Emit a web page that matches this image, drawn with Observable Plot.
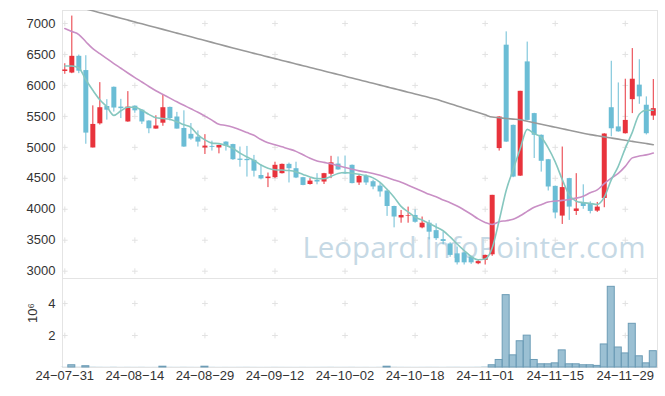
<!DOCTYPE html>
<html><head><meta charset="utf-8">
<script src="https://cdn.jsdelivr.net/npm/d3@7"></script>
<script src="https://cdn.jsdelivr.net/npm/@observablehq/plot@0.6"></script>
<style>body{margin:0;background:#fff;} #chart svg{display:block;}</style>
</head><body><div id="chart"></div>
<script>
const dates = ["24-07-31","24-08-01","24-08-02","24-08-05","24-08-06","24-08-07","24-08-08","24-08-09","24-08-12","24-08-13",
"24-08-14","24-08-16","24-08-19","24-08-20","24-08-21","24-08-22","24-08-23","24-08-26","24-08-27","24-08-28",
"24-08-29","24-08-30","24-09-02","24-09-03","24-09-04","24-09-05","24-09-06","24-09-09","24-09-10","24-09-11",
"24-09-12","24-09-13","24-09-19","24-09-20","24-09-23","24-09-24","24-09-25","24-09-26","24-09-27","24-09-30",
"24-10-02","24-10-04","24-10-07","24-10-08","24-10-10","24-10-11","24-10-14","24-10-15","24-10-16","24-10-17",
"24-10-18","24-10-21","24-10-22","24-10-23","24-10-24","24-10-25","24-10-28","24-10-29","24-10-30","24-10-31",
"24-11-01","24-11-04","24-11-05","24-11-06","24-11-07","24-11-08","24-11-11","24-11-12","24-11-13","24-11-14",
"24-11-15","24-11-18","24-11-19","24-11-20","24-11-21","24-11-22","24-11-25","24-11-26","24-11-27","24-11-28",
"24-11-29","24-12-02","24-12-03","24-12-04","24-12-05"];
const opens = [6225,6200,6470,6240,4990,5380,5660,5970,5650,5410,
5665,5600,5425,5295,5390,5645,5490,5305,5210,5165,
4990,5015,4990,5085,5045,4810,4805,4790,4545,4495,
4510,4575,4725,4655,4510,4400,4465,4440,4565,4730,
4590,4710,4425,4530,4445,4375,4295,4045,3860,3885,
3900,3700,3775,3655,3510,3440,3280,3295,3225,3120,
3175,3265,4980,6650,5355,4535,6380,5545,5195,4800,
4370,3890,4495,3965,4095,4095,3970,4175,5640,5330,
5220,5770,6005,5680,5505];
const highs = [6350,7120,6490,6480,5670,6045,5770,5975,5775,5900,
5670,5610,5430,5510,5845,5650,5565,5590,5385,5265,
5205,5100,5035,5090,5050,5005,5015,4870,4715,4585,
4760,4730,4745,4760,4515,4495,4575,4580,4855,4845,
4860,4715,4550,4555,4470,4415,4300,4050,3980,4035,
3990,3875,3820,3765,3630,3460,3390,3300,3240,3175,
3260,4225,5495,6865,5360,5905,6700,5550,5200,4805,
4375,5005,4500,4575,4395,4120,4110,5220,6390,6040,
6100,6595,6415,5815,6095];
const lows = [6180,6190,6190,5050,4990,5360,5440,5570,5465,5405,
5550,5370,5220,5295,5340,5425,5295,5000,5115,5005,
4885,4940,4895,4940,4790,4680,4520,4520,4475,4350,
4495,4570,4425,4495,4380,4390,4395,4400,4495,4630,
4560,4410,4385,4385,4315,4195,3885,3700,3775,3775,
3775,3685,3505,3495,3425,3225,3100,3100,3110,3105,
3100,3240,4940,5080,4510,4530,5430,4820,4600,4295,
3845,3755,3820,3900,4000,3925,3950,4025,5170,5245,
5215,5545,5695,5200,5435];
const closes = [6250,6470,6230,5230,5370,5640,5600,5635,5625,5650,
5590,5410,5300,5345,5640,5465,5295,5005,5135,5085,
5020,5000,5030,5020,4800,4790,4785,4615,4490,4520,
4710,4725,4655,4505,4385,4455,4440,4575,4750,4635,
4570,4415,4530,4425,4360,4280,4045,3875,3900,3895,
3790,3775,3630,3525,3480,3255,3135,3135,3135,3155,
3255,4225,5490,5085,4520,5905,5435,5195,4775,4360,
3940,4350,4035,4005,4045,3965,4035,5215,5300,5250,
5435,6100,5815,5220,5625];
const volumes = [12000,140000,15000,80000,18000,14000,11000,16000,9000,12000,
10000,13000,8000,9000,50000,12000,10000,14000,11000,9000,
50000,12000,8000,10000,9000,11000,13000,10000,8000,9000,
12000,10000,9000,8000,11000,9000,10000,12000,14000,10000,
11000,13000,9000,10000,8000,12000,50000,15000,12000,10000,
9000,11000,13000,12000,10000,14000,15000,12000,13000,16000,
30000,140000,470000,4520000,760000,1640000,1990000,470000,200000,200000,
260000,1070000,200000,200000,140000,140000,100000,1440000,5040000,1250000,
880000,2730000,700000,260000,1020000];
const ma5 = [6314,6314,6282,6091,5921,5768,5655,5517,5590,5647,
5647,5598,5533,5478,5465,5453,5412,5364,5323,5202,
5121,5068,5060,5032,4984,4906,4843,4790,4714,4663,
4639,4633,4625,4604,4563,4521,4495,4494,4531,4579,
4594,4583,4566,4544,4507,4434,4321,4196,4046,3957,
3873,3827,3771,3714,3653,3553,3439,3334,3237,3184,
3197,3375,3819,4304,4644,4976,5291,5221,5161,4992,
4765,4482,4232,4131,4107,4094,4078,4196,4474,4693,
4984,5242,5533,5598,5598];
const ma20 = [6919,6871,6822,6706,6593,6512,6432,6353,6277,6201,
6127,6056,5983,5915,5855,5795,5735,5679,5622,5566,
5504,5440,5372,5354,5325,5283,5239,5194,5126,5073,
5043,5008,4974,4935,4880,4823,4781,4757,4735,4705,
4676,4647,4620,4600,4578,4550,4513,4474,4437,4389,
4340,4292,4241,4204,4151,4107,4054,3989,3920,3844,
3787,3755,3800,3816,3837,3895,3965,4034,4075,4117,
4133,4144,4159,4180,4212,4266,4313,4413,4502,4579,
4693,4830,4859,4878,4908];
const ma120 = [7325,7295,7265,7235,7205,7175,7145,7115,7085,7055,
7025,6995,6965,6935,6905,6875,6845,6815,6785,6755,
6725,6695,6665,6635,6605,6575,6547,6518,6490,6461,
6433,6404,6376,6347,6319,6290,6262,6233,6205,6176,
6148,6119,6091,6062,6034,6005,5977,5948,5920,5891,
5863,5834,5806,5777,5741,5705,5669,5633,5597,5561,
5525,5489,5478,5467,5456,5445,5421,5397,5373,5349,
5325,5301,5277,5253,5229,5205,5187,5169,5151,5133,
5115,5097,5079,5061,5043];
const priceTicks = [3000,3500,4000,4500,5000,5500,6000,6500,7000];
const volumeTicks = [2000000,4000000];
const dateTicks = ["24-07-31","24-08-14","24-08-29","24-09-12","24-10-02","24-10-18","24-11-01","24-11-15","24-11-29"];
const watermark = "Leopard.InfoPointer.com";

const rows = dates.map((date, i) => ({i, date, open: opens[i], high: highs[i], low: lows[i], close: closes[i],
  volume: volumes[i], ma5: ma5[i], ma20: ma20[i], ma120: ma120[i]}));
const tickIdx = dateTicks.map(d => dates.indexOf(d));
const fmtDate = i => (dates[i] || "").replace(/-/g, "\u2212");
const xDomain = [-0.33, 84.6];
const isUp = d => d.close >= d.open;
const RED = "#e8333c", BLUE = "#6bbdd5";
const FONT = "'Liberation Sans', Arial, sans-serif";
const cross = (xs, ys) => xs.flatMap(x => ys.map(y => ({x, y})));
const style = {fontFamily: FONT, fontSize: "13px", color: "#333", background: "#fff", overflow: "visible"};

const price = Plot.plot({
  width: 665, height: 278, marginTop: 10, marginBottom: 0, marginLeft: 62, marginRight: 8,
  style,
  x: {type: "linear", domain: xDomain, axis: null},
  y: {domain: [2882, 7210], ticks: priceTicks, tickSize: 0, tickPadding: 7, label: null, tickFormat: d => String(d)},
  marks: [
    Plot.frame({stroke: "#e4e4e4"}),
    Plot.dot(cross(tickIdx, priceTicks), {x: "x", y: "y", symbol: "plus", r: 2, stroke: "#e2e2e2", strokeWidth: 1}),
    Plot.text([watermark], {text: d => d, frameAnchor: "bottom-right", textAnchor: "end", dx: -12, dy: -21,
      fontSize: 29.5, fontFamily: "'Open Sans', sans-serif", fill: "#c6d9e5"}),
    Plot.ruleX(rows, {filter: isUp, x: "i", y1: "low", y2: "high", stroke: RED, strokeWidth: 1}),
    Plot.ruleX(rows, {filter: d => !isUp(d), x: "i", y1: "low", y2: "high", stroke: BLUE, strokeWidth: 1}),
    Plot.ruleX(rows, {filter: isUp, x: "i", y1: "open", y2: "close", stroke: RED, strokeWidth: 5}),
    Plot.ruleX(rows, {filter: d => !isUp(d), x: "i", y1: "open", y2: "close", stroke: BLUE, strokeWidth: 5}),
    Plot.line(rows, {x: "i", y: "ma120", stroke: "#999999", strokeWidth: 1.6, curve: "monotone-x", clip: true}),
    Plot.line(rows, {x: "i", y: "ma20", stroke: "#c98fc5", strokeWidth: 1.6, curve: "monotone-x"}),
    Plot.line(rows, {x: "i", y: "ma5", stroke: "#86c7bf", strokeWidth: 1.6, curve: "monotone-x"})
  ]
});

const vol = Plot.plot({
  width: 665, height: 118, marginTop: 0, marginBottom: 29, marginLeft: 62, marginRight: 8,
  style,
  x: {type: "linear", domain: xDomain, ticks: tickIdx, tickFormat: fmtDate, tickSize: 0, tickPadding: 3, label: null},
  y: {domain: [0, 5560000], ticks: volumeTicks, tickFormat: d => String(d / 1e6), tickSize: 0, tickPadding: 7, label: null},
  marks: [
    Plot.frame({stroke: "#e4e4e4"}),
    Plot.dot(cross(tickIdx, volumeTicks), {x: "x", y: "y", symbol: "plus", r: 2, stroke: "#e2e2e2", strokeWidth: 1}),
    Plot.rect(rows, {x1: d => d.i - 0.5, x2: d => d.i + 0.5, y1: 0, y2: "volume", fill: "#9bc0d3"}),
    Plot.rect(rows, {filter: d => d.volume >= 50000, x1: d => d.i - 0.5, x2: d => d.i + 0.5, y1: 0, y2: "volume",
      fill: "none", stroke: "#6c9cb6", strokeWidth: 1}),
    Plot.text(["10\u2076"], {text: d => d, frameAnchor: "left", dx: -30, rotate: -90, fontSize: 13, fill: "#333"})
  ]
});

const host = document.getElementById("chart");
host.appendChild(price);
host.appendChild(vol);
</script></body></html>
